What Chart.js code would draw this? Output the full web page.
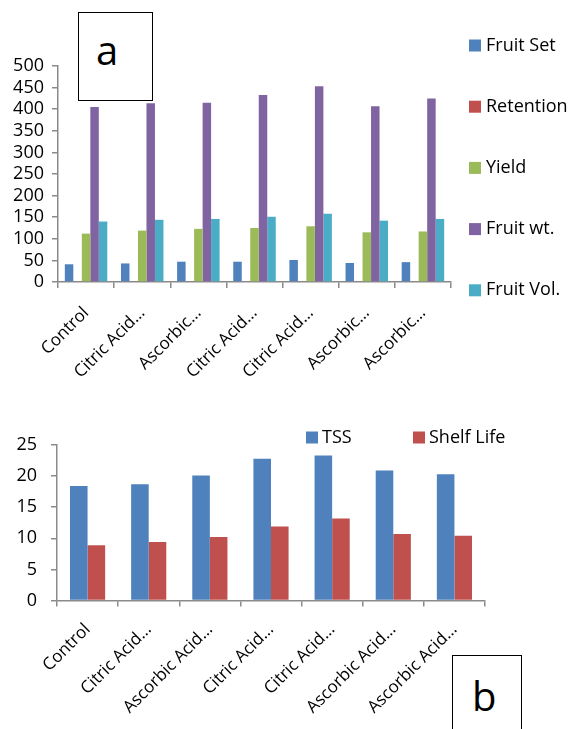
<!DOCTYPE html>
<html>
<head>
<meta charset="utf-8">
<script src="https://cdn.jsdelivr.net/npm/chart.js@4.4.0/dist/chart.umd.min.js"></script>
<style>
  html, body { margin: 0; padding: 0; background: #fff; }
  body { width: 573px; height: 729px; position: relative; overflow: hidden; font-family: 'Open Sans', sans-serif; }
  .panel { position: absolute; left: 0; }
  #topWrap { top: 0; width: 573px; height: 390px; }
  #bottomWrap { top: 390px; width: 573px; height: 339px; }
  .tagBox { position: absolute; border: 1px solid #000; background: #fff; box-sizing: border-box; }
  .tagText { position: absolute; font-size: 40px; line-height: 40px; color: #000; }
</style>
</head>
<body>
<div class="panel" id="topWrap"><canvas id="topChart" width="573" height="390"></canvas></div>
<div class="panel" id="bottomWrap"><canvas id="bottomChart" width="573" height="339"></canvas></div>

<div class="tagBox" style="left:78px; top:12px; width:75px; height:89px;"></div>
<span class="tagText" style="left:96px; top:30px;">a</span>
<div class="tagBox" style="left:452px; top:655px; width:70px; height:100px;"></div>
<span class="tagText" style="left:472px; top:676px;">b</span>

<script>
// top panel: fruit set / retention / yield / fruit wt. / fruit vol.
const topLabels = ['Control', 'Citric Acid\u2026', 'Ascorbic\u2026', 'Citric Acid\u2026', 'Citric Acid\u2026', 'Ascorbic\u2026', 'Ascorbic\u2026'];
const fruitSet = [41, 43, 47, 47, 51, 44, 46];
const retention = [0, 0, 0, 0, 0, 0, 0];
const yieldVals = [112, 119, 123, 125, 129, 115, 117];
const fruitWt = [405, 414, 415, 433, 453, 407, 425];
const fruitVol = [140, 144, 146, 151, 158, 142, 146];
const topMax = 500;
const topStep = 50;

// bottom panel: TSS and shelf life
const bottomLabels = ['Control', 'Citric Acid\u2026', 'Ascorbic Acid\u2026', 'Citric Acid\u2026', 'Citric Acid\u2026', 'Ascorbic Acid\u2026', 'Ascorbic Acid\u2026'];
const tss = [18.4, 18.7, 20.1, 22.8, 23.3, 20.9, 20.3];
const shelfLife = [8.9, 9.4, 10.2, 11.9, 13.2, 10.7, 10.4];
const bottomMax = 25;
const bottomStep = 5;

const AXIS_GREY = '#8a8a8a';
const FONT = "'Open Sans', sans-serif";

// draws the legend items at fixed spots next to the plot
const fixedLegend = {
    id: 'fixedLegend',
    afterDraw(chart, args, opts) {
        const ctx = chart.ctx;
        ctx.save();
        ctx.font = opts.size + 'px ' + FONT;
        ctx.textBaseline = 'middle';
        chart.data.datasets.forEach((ds, i) => {
            const x = opts.x + i * opts.dx;
            const y = opts.y + i * opts.dy;
            ctx.fillStyle = ds.backgroundColor;
            ctx.fillRect(x, y - opts.box / 2, opts.box, opts.box);
            ctx.fillStyle = '#000';
            ctx.fillText(ds.label, x + opts.box + opts.gap, y);
        });
        ctx.restore();
    }
};

function axisOptions(opts) {
    return {
        x: {
            grid: { display: true, drawOnChartArea: false, drawTicks: true, tickLength: 6, color: AXIS_GREY, lineWidth: 1.5, offset: true },
            border: { display: true, color: AXIS_GREY, width: 1.5 },
            ticks: { color: '#000', font: { family: FONT, size: 17 }, minRotation: 45, maxRotation: 45, padding: opts.xPad, autoSkip: false },
            afterFit: scale => { scale.height = opts.xHeight; }
        },
        y: {
            min: 0,
            max: opts.max,
            grid: { display: true, drawOnChartArea: false, drawTicks: true, tickLength: 6, color: AXIS_GREY, lineWidth: 1.5 },
            border: { display: true, color: AXIS_GREY, width: 1.5 },
            ticks: { stepSize: opts.step, autoSkip: false, color: '#000', font: { family: FONT, size: 18, lineHeight: 1 }, padding: opts.yPad },
            afterFit: scale => { scale.width = opts.yWidth; }
        }
    };
}

function makeChart(id, labels, datasets, opts) {
    return new Chart(document.getElementById(id), {
        type: 'bar',
        data: { labels: labels, datasets: datasets },
        options: {
            responsive: false,
            animation: false,
            datasets: { bar: { categoryPercentage: opts.catPct, barPercentage: 1 } },
            layout: { padding: opts.padding },
            plugins: {
                legend: { display: false },
                tooltip: { enabled: false },
                fixedLegend: opts.legend
            },
            scales: axisOptions(opts)
        },
        plugins: [fixedLegend]
    });
}

makeChart('topChart', topLabels, [
    { label: 'Fruit Set', data: fruitSet, backgroundColor: '#4f81bd' },
    { label: 'Retention', data: retention, backgroundColor: '#c0504d' },
    { label: 'Yield', data: yieldVals, backgroundColor: '#9bbb59' },
    { label: 'Fruit wt.', data: fruitWt, backgroundColor: '#8064a2' },
    { label: 'Fruit Vol.', data: fruitVol, backgroundColor: '#4bacc6' }
], {
    max: topMax, step: topStep,
    catPct: 0.757,
    padding: { top: 66, right: 122, left: 0, bottom: 0 },
    xHeight: 108, yWidth: 58, xPad: 15, yPad: 8,
    legend: { x: 469, y: 45.5, dx: 0, dy: 61.2, box: 12, gap: 5, size: 18 }
});

makeChart('bottomChart', bottomLabels, [
    { label: 'TSS', data: tss, backgroundColor: '#4f81bd' },
    { label: 'Shelf Life', data: shelfLife, backgroundColor: '#c0504d' }
], {
    max: bottomMax, step: bottomStep,
    catPct: 0.575,
    padding: { top: 55, right: 88, left: 0, bottom: 0 },
    xHeight: 128.5, yWidth: 57, xPad: 13, yPad: 14,
    legend: { x: 306, y: 47.5, dx: 107, dy: 0, box: 12, gap: 4, size: 18 }
});
</script>
</body>
</html>
